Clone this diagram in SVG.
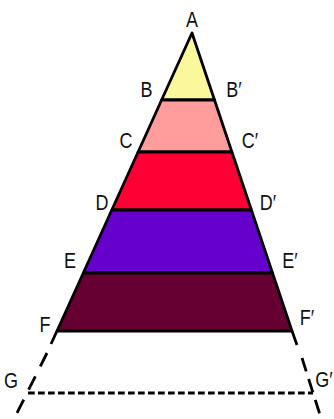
<svg xmlns="http://www.w3.org/2000/svg" width="334" height="419" viewBox="0 0 334 419">
<style>
.band{stroke:#000;stroke-width:2.8;stroke-linejoin:round}
.lbl{font-family:"Liberation Sans",Arial,sans-serif;font-size:22.5px;fill:#111;text-anchor:middle}
.dash{fill:none;stroke:#000;stroke-width:2.8}
</style>
<rect width="334" height="419" fill="#fff"/>
<g id="layer-AB"><polygon class="band" fill="#FAF79C" points="192,33 214.5,100 161.6,100"/></g>
<g id="layer-BC"><polygon class="band" fill="#FF9C9C" points="161.6,100 214.5,100 231.9,152 138.1,152"/></g>
<g id="layer-CD"><polygon class="band" fill="#FF0035" points="138.1,152 231.9,152 251.4,210 111.8,210"/></g>
<g id="layer-DE"><polygon class="band" fill="#6600CC" points="111.8,210 251.4,210 272.5,273 83.3,273"/></g>
<g id="layer-EF"><polygon class="band" fill="#660033" points="83.3,273 272.5,273 292,331 57,331"/></g>
<g id="connectors">
<path class="dash" d="M57,331 L51,344"/>
<path class="dash" d="M292,331 L297,345"/>
<path class="dash" stroke-dasharray="15 11" d="M47,353 L17,413"/>
<path class="dash" stroke-dasharray="14 8" d="M302,358 L321,418"/>
<path class="dash" stroke-dasharray="6.7 3.3" d="M28,393 L313,393"/>
</g>
<g id="labels">
<text class="lbl" transform="translate(192,27) scale(0.8,1)">A</text>
<text class="lbl" transform="translate(146.5,97) scale(0.8,1)">B</text>
<text class="lbl" transform="translate(234,97) scale(0.8,1)">B′</text>
<text class="lbl" transform="translate(126,148) scale(0.8,1)">C</text>
<text class="lbl" transform="translate(250,148) scale(0.8,1)">C′</text>
<text class="lbl" transform="translate(102,210) scale(0.8,1)">D</text>
<text class="lbl" transform="translate(268,210) scale(0.8,1)">D′</text>
<text class="lbl" transform="translate(70,268) scale(0.8,1)">E</text>
<text class="lbl" transform="translate(290,268) scale(0.8,1)">E′</text>
<text class="lbl" transform="translate(45,332) scale(0.8,1)">F</text>
<text class="lbl" transform="translate(307,325) scale(0.8,1)">F′</text>
<text class="lbl" transform="translate(11,388) scale(0.8,1)">G</text>
<text class="lbl" transform="translate(324,387) scale(0.8,1)">G′</text>
</g>
</svg>
